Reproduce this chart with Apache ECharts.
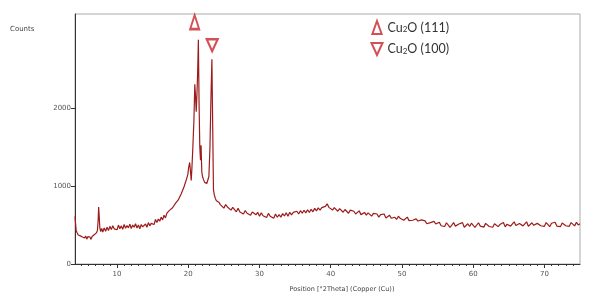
<!DOCTYPE html>
<html><head><meta charset="utf-8">
<script src="https://cdn.jsdelivr.net/npm/echarts@6/dist/echarts.min.js"></script>
<style>html,body{margin:0;padding:0;background:#fff}#c{width:593px;height:308px}</style>
</head><body><div id="c"></div>
<script>
// [2Theta, counts]
const lowAngle = [
[4.10,610],[4.18,520],[4.26,430],[4.40,400],[4.55,372],[4.70,395],[4.85,360],[5.00,382],[5.15,345],[5.30,370],
[5.45,332],[5.60,358],[5.75,318],[5.90,350],[6.05,325],[6.20,345],[6.35,315],[6.50,352],[6.65,340],[6.80,375],
[6.95,358],[7.10,398],[7.25,430],[7.35,560],[7.42,730],[7.50,610],[7.58,470],[7.70,415],[7.85,455],[8.00,410],
[8.20,462],[8.40,420],[8.60,470],[8.80,428],[9.00,482],[9.20,440],[9.40,490],[9.60,450],[9.80,475],[10.00,438],
[10.20,498],[10.40,452],[10.60,488],[10.80,445],[11.00,505],[11.20,458],[11.40,492],[11.60,462],[11.80,510],[12.00,455],
[12.20,500],[12.40,470],[12.60,515],[12.80,460],[13.00,498],[13.20,452],[13.40,505],[13.60,475],[13.80,455],[14.00,512],
[14.20,470],[14.40,530],[14.60,488],[14.80,520],[15.00,540],[15.20,505],[15.40,570],[15.60,530],[15.80,575],[16.00,548],
[16.20,600],[16.40,565],[16.60,625],[16.80,590],[17.00,650],[17.20,630],[17.40,690],[17.60,665],[17.80,720],[18.00,700],
[18.20,775],[18.40,760],[18.60,820],[18.80,830],[19.00,895],[19.20,920],[19.40,985],[19.60,1010],[19.80,1100],[19.95,1150]
];
const cu2oPeaks = [
[20.05,1230],[20.20,1300],[20.32,1180],[20.42,1070],[20.52,1240],[20.65,1500],[20.80,1850],[20.92,2300],[21.02,2150],
[21.12,1950],[21.22,2170],[21.32,2450],[21.42,2870],[21.52,2050],[21.62,1500],[21.72,1330],[21.80,1520],[21.90,1180],
[22.00,1120],[22.15,1080],[22.30,1045],[22.45,1060],[22.60,1030],[22.75,1010],[22.90,1120],[23.05,1500],[23.18,2100],
[23.32,2620],[23.44,1700],[23.54,950],[23.65,890],[23.80,840],[23.95,810],[24.10,800]
];
const highAngle = [
[24.30,790],[24.50,760],[24.75,785],[25.00,715],[25.25,760],[25.50,730],[25.75,745],[26.00,690],[26.25,725],[26.50,712],
[26.75,668],[27.00,715],[27.25,665],[27.50,690],[27.75,640],[28.00,685],[28.25,650],[28.50,672],[28.75,625],[29.00,665],
[29.25,640],[29.50,630],[29.75,662],[30.00,610],[30.25,655],[30.50,618],[30.75,640],[31.00,595],[31.25,648],[31.50,612],
[31.75,630],[32.00,585],[32.25,640],[32.50,598],[32.75,632],[33.00,600],[33.25,645],[33.50,615],[33.75,655],[34.00,610],
[34.25,662],[34.50,628],[34.75,660],[35.00,635],[35.25,675],[35.50,640],[35.75,682],[36.00,650],[36.25,688],[36.50,655],
[36.75,695],[37.00,660],[37.25,700],[37.50,668],[37.75,712],[38.00,680],[38.25,718],[38.50,690],[38.75,722],[39.00,705],
[39.25,738],[39.50,770],[39.75,725],[40.00,712],[40.25,690],[40.50,722],[40.75,700],[41.00,675],[41.25,708],[41.50,690],
[41.75,662],[42.00,698],[42.25,678],[42.50,650],[42.75,690],[43.00,668],[43.25,675],[43.50,640],[43.75,662],[44.00,680],
[44.25,632],[44.50,648],[44.75,660],[45.00,625],[45.25,655],[45.50,640],[45.75,612],[46.00,648],[46.25,628],[46.50,640],
[46.75,600],[47.00,632],[47.25,615],[47.50,640],[47.75,590],[48.00,605],[48.25,625],[48.50,585],[48.75,610],[49.00,598],
[49.25,570],[49.50,612],[49.75,585],[50.00,595],[50.25,560],[50.50,582],[50.75,600],[51.00,555],[51.25,575],[51.50,560],
[51.75,540],[52.00,578],[52.25,550],[52.50,535],[52.75,565],[53.00,540],[53.25,552],[53.50,515],[53.75,540],[54.00,530],
[54.25,505],[54.50,545],[54.75,512],[55.00,520],[55.25,535],[55.50,490],[55.75,502],[56.00,480],[56.25,528],[56.50,515],
[56.75,470],[57.00,498],[57.25,530],[57.50,485],[57.75,475],[58.00,512],[58.25,495],[58.50,530],[58.75,470],[59.00,490],
[59.25,515],[59.50,480],[59.75,522],[60.00,505],[60.25,470],[60.50,492],[60.75,528],[61.00,485],[61.25,500],[61.50,472],
[61.75,520],[62.00,535],[62.25,480],[62.50,498],[62.75,470],[63.00,515],[63.25,528],[63.50,478],[63.75,505],[64.00,490],
[64.25,532],[64.50,475],[64.75,510],[65.00,525],[65.25,485],[65.50,500],[65.75,540],[66.00,492],[66.25,478],[66.50,518],
[66.75,530],[67.00,488],[67.25,512],[67.50,540],[67.75,482],[68.00,500],[68.25,528],[68.50,495],[68.75,475],[69.00,520],
[69.25,538],[69.50,490],[69.75,510],[70.00,482],[70.25,530],[70.50,505],[70.75,478],[71.00,522],[71.25,498],[71.50,535],
[71.75,485],[72.00,508],[72.25,478],[72.50,525],[72.75,540],[73.00,490],[73.25,505],[73.50,482],[73.75,530],[74.00,512],
[74.25,488],[74.50,535],[74.75,500],[75.00,515]
];
const xTicks = [10,20,30,40,50,60,70];
const xMinorTicks = [5,6,7,8,9,11,12,13,14,15,16,17,18,19,21,22,23,24,25,26,27,28,29,31,32,33,34,35,36,37,38,39,
  41,42,43,44,45,46,47,48,49,51,52,53,54,55,56,57,58,59,61,62,63,64,65,66,67,68,69,71,72,73,74];
const yTicks = [0,1000,2000];
const marker111 = [[20.9, 3096]];
const marker100 = [[23.36, 2800]];
const name111 = 'Cu2O (111)';
const name100 = 'Cu2O (100)';

const chart = echarts.init(document.getElementById('c'), null, {renderer:'canvas'});
const red = '#c8252b';
const iconStyle = {color:'#fff',borderColor:red,borderWidth:2};
chart.setOption({
  animation:false,
  backgroundColor:'#fff',
  grid:{left:75,right:13,top:14,bottom:44,show:true,borderColor:'#aaa',borderWidth:1},
  legend:{
    data:[
      {name:name111,icon:'path://M5,0 L10,14 L0,14 Z',itemStyle:iconStyle},
      {name:name100,icon:'path://M0,0 L11,0 L5.5,12 Z',itemStyle:iconStyle}
    ],
    orient:'vertical', left:370.5, top:20, padding:0, itemWidth:11, itemHeight:13, itemGap:7,
    textStyle:{fontFamily:'Lato',fontSize:12.5,color:'#333',
      rich:{a:{fontFamily:'Lato',fontSize:12.5,color:'#333'},s:{fontFamily:'Lato',fontSize:8,color:'#333',padding:[4,0,0,0]}}},
    formatter:function(n){return '{a|Cu}{s|2}{a|'+n.slice(3)+'}';}
  },
  xAxis:[{
    type:'value', min:4.1, max:75, position:'bottom',
    axisLine:{lineStyle:{color:'#333',width:1}},
    axisTick:{customValues:xTicks,length:4,lineStyle:{color:'#333'}},
    axisLabel:{customValues:xTicks,fontSize:7,color:'#555',margin:7,fontFamily:'DejaVu Sans'},
    splitLine:{show:false}
  },{
    type:'value', min:4.1, max:75, position:'bottom', offset:0,
    axisLine:{show:false},
    axisTick:{customValues:xMinorTicks,length:2,lineStyle:{color:'#333'}},
    axisLabel:{show:false},
    splitLine:{show:false}
  }],
  yAxis:{
    type:'value', min:0, max:3200, interval:1000,
    axisLine:{show:true,lineStyle:{color:'#333',width:1}},
    axisTick:{show:true,customValues:yTicks,length:4,lineStyle:{color:'#333'}},
    axisLabel:{customValues:yTicks,fontSize:7,color:'#555',margin:4,fontFamily:'DejaVu Sans',
      formatter:function(v){return String(v);}},
    splitLine:{show:false}
  },
  graphic:[
    {type:'text',left:10,top:26,style:{text:'Counts',fontSize:7,fill:'#444',fontFamily:'DejaVu Sans'}},
    {type:'text',x:342,y:289,style:{text:'Position [°2Theta] (Copper (Cu))',fontSize:6.5,fill:'#444',fontFamily:'DejaVu Sans',align:'center',verticalAlign:'middle'}}
  ],
  series:[
    {type:'line',xAxisIndex:0,data:lowAngle.concat(cu2oPeaks,highAngle),symbol:'none',
     lineStyle:{color:'#9c1c1c',width:1.2},z:2},
    {type:'scatter',name:name111,xAxisIndex:0,data:marker111,symbol:'triangle',symbolSize:[9,14],
     itemStyle:{color:'#fff',borderColor:red,borderWidth:2.2},z:3},
    {type:'scatter',name:name100,xAxisIndex:0,data:marker100,symbol:'triangle',symbolRotate:180,symbolSize:[11,12],
     itemStyle:{color:'#fff',borderColor:red,borderWidth:2.2},z:3}
  ]
});
</script></body></html>
